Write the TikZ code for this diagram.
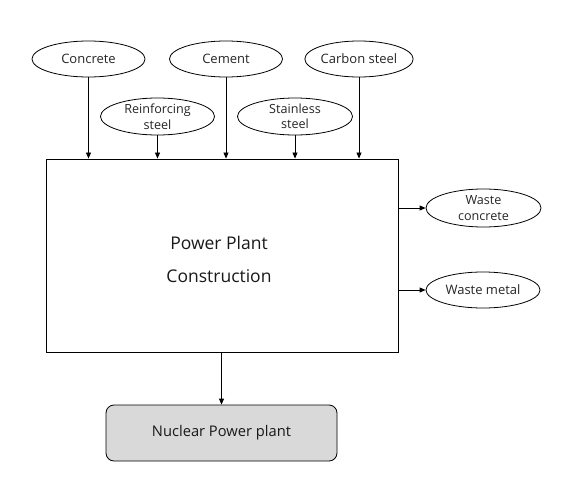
\documentclass[tikz,border=0pt]{standalone}
\usepackage{fontspec}
\setmainfont{Open Sans}
\usetikzlibrary{shapes.geometric,arrows.meta}
\tikzset{
  mat/.style={ellipse,draw=black,line width=0.8pt,inner sep=0pt,minimum width=113pt,minimum height=36pt,align=center,font=\fontsize{13}{15}\selectfont,text=black!85},
  twoline/.style={font=\fontsize{12.6}{15.5}\selectfont},
  arr/.style={line width=0.8pt,-{Triangle[width=5pt,length=6pt]}},
}
\begin{document}
\begin{tikzpicture}[x=1pt,y=-1pt]
\useasboundingbox[fill=white] (0,0) rectangle (575,503);
\node[draw,line width=0.9pt,minimum width=352pt,minimum height=193pt,inner sep=0pt] (box) at (222,255.5) {};
\node[align=center,font=\fontsize{17.5}{33}\selectfont,text=black!90] (lbl) at (219,259) {Power Plant\\Construction};
\node[mat] (concrete) at (88.5,59) {Concrete};
\node[mat] (cement) at (226,59) {Cement};
\node[mat,minimum width=108pt] (carbon) at (359,59) {Carbon steel};
\node[mat,twoline,minimum width=114pt,minimum height=37pt] (reinf) at (157.5,116.5) {Reinforcing\\steel};
\node[mat,twoline,minimum width=115pt,minimum height=37pt] (stain) at (295,116.5) {Stainless\\steel};
\node[mat,twoline,minimum width=115pt,minimum height=38pt] (wconc) at (483.5,208) {Waste\\concrete};
\node[mat,minimum width=114pt,minimum height=36pt] (wmetal) at (483,290) {Waste metal};
\node[draw,line width=0.8pt,fill=black!15,rounded corners=8pt,minimum width=231pt,minimum height=56pt,inner sep=0pt,font=\fontsize{14.7}{17}\selectfont,text=black!90] (npp) at (221.5,433) {Nuclear Power plant};
\foreach \n in {concrete,cement,carbon,reinf,stain}
  \draw[arr] (\n.south) -- (\n.south |- box.north);
\draw[arr] (box.east |- wconc.west) -- (wconc.west);
\draw[arr] (box.east |- wmetal.west) -- (wmetal.west);
\draw[arr] (npp.north |- box.south) -- (npp.north);
\end{tikzpicture}
\end{document}
